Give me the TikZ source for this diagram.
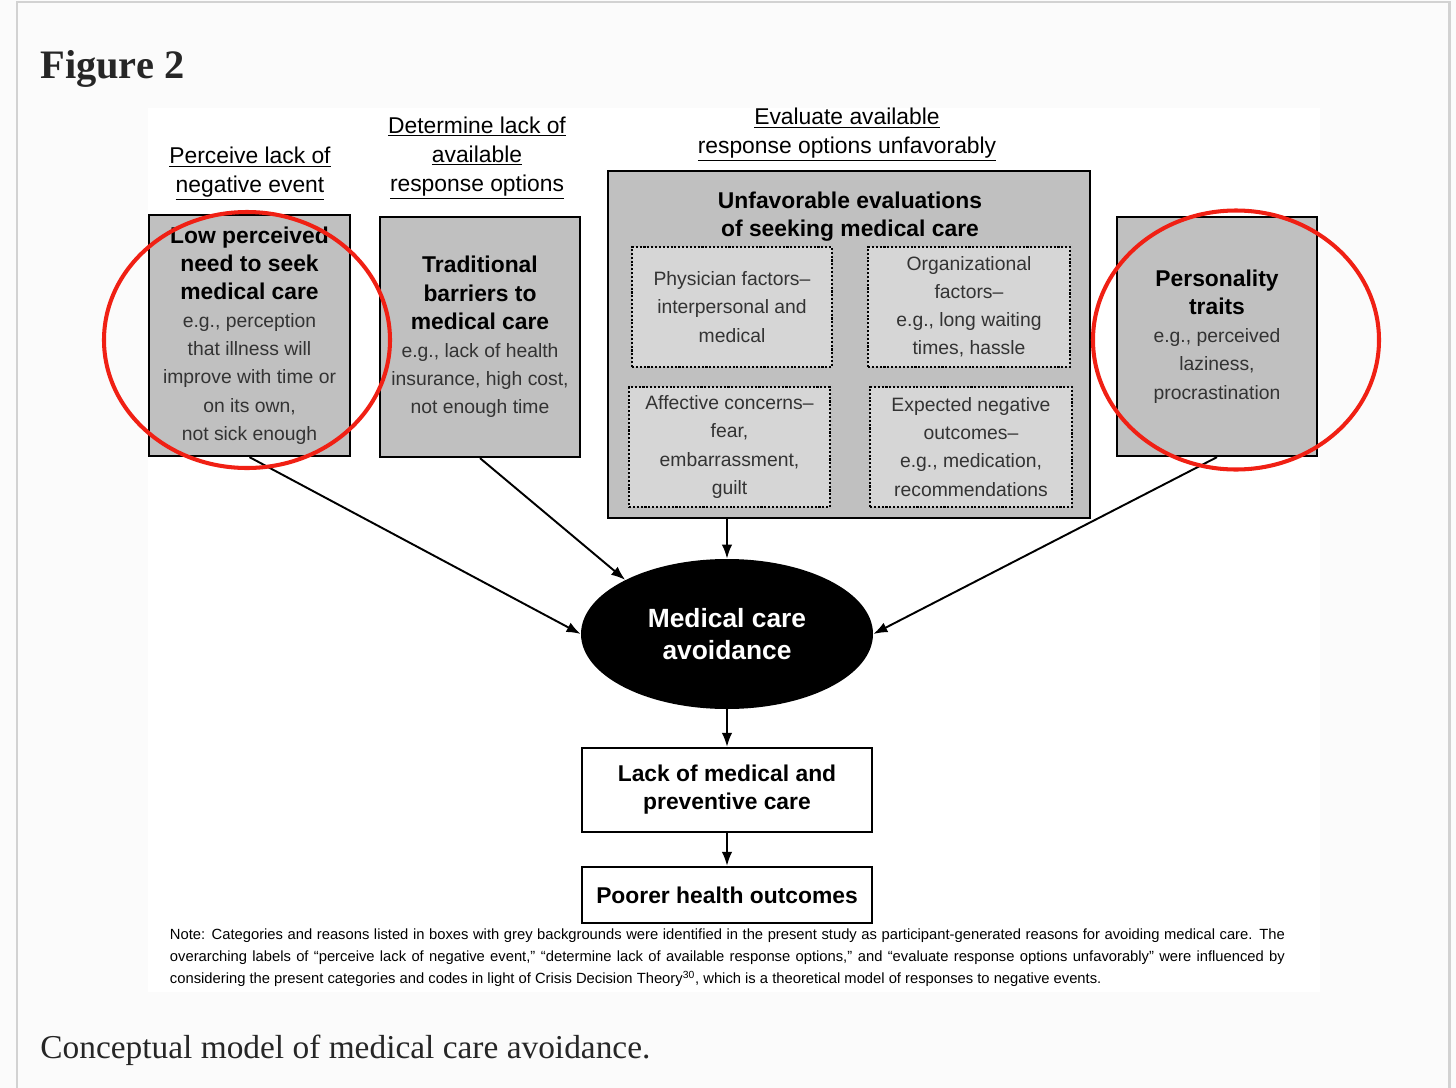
\documentclass[tikz,border=0pt]{standalone}
\usepackage{fontspec}
\setmainfont{Liberation Serif}
\newfontfamily\arialfont{Liberation Sans}
\usetikzlibrary{shapes.geometric,arrows.meta,positioning}
\definecolor{framegray}{RGB}{210,210,210}
\definecolor{pagegray}{RGB}{251,251,251}
\definecolor{boxgray}{RGB}{192,192,192}
\definecolor{innergray}{RGB}{214,214,214}
\definecolor{ringred}{RGB}{240,32,20}
\definecolor{textgray}{RGB}{38,38,38}
\newcommand{\boxhead}[1]{\textbf{\color{black}\fontsize{13}{16}\selectfont #1}}
\tikzset{
  graybox/.style={draw, line width=1.3pt, fill=boxgray, align=center, inner sep=0pt,
    font=\arialfont\fontsize{11}{16}\selectfont, text=black!80},
  dotbox/.style={draw, densely dotted, line width=1.2pt, fill=innergray, minimum height=24mm,
    align=center, inner sep=0pt, font=\arialfont\fontsize{11}{16}\selectfont, text=black!80},
  whitebox/.style={draw, line width=1.3pt, fill=white, minimum width=58mm, align=center,
    inner sep=0pt, font=\arialfont\bfseries\fontsize{13}{16}\selectfont},
  toplabel/.style={align=center, inner sep=0pt, font=\arialfont\fontsize{13}{16.5}\selectfont},
  flow/.style={-{Latex[length=8pt,width=6pt]}, line width=1.1pt},
  ring/.style={draw=ringred, line width=2.3pt, ellipse, inner sep=0pt},
}
\begin{document}
\begin{tikzpicture}[x=0.2mm, y=-0.2mm]
  \useasboundingbox (0,0) rectangle (1456,1088);
  \fill[pagegray] (0,0) rectangle (1456,1088);
  \draw[framegray, line width=1.7pt] (17,1100) -- (17,2) -- (1449,2) -- (1449,1100);
  \fill[white] (148,108) rectangle (1320,992);

  \node[anchor=base west, inner sep=0pt, text=textgray, font=\bfseries\fontsize{23}{27}\selectfont] (figtitle) at (40,78) {Figure 2};

  % headings
  \node[toplabel] (lab1) at (250,174) {\underline{Perceive lack of}\\\underline{negative event}};
  \node[toplabel] (lab2) at (477,158) {\underline{Determine lack of}\\\underline{available}\\\underline{response options}};
  \node[toplabel] (lab3) at (847,135) {\underline{Evaluate available}\\\underline{response options unfavorably}};

  % grey boxes
  \node[graybox, minimum width=40.2mm, minimum height=48.2mm] (need) at (249.5,335.5) {\boxhead{Low perceived}\\\boxhead{need to seek}\\\boxhead{medical care}\\e.g., perception\\that illness will\\improve with time or\\on its own,\\not sick enough};
  \node[graybox, minimum width=40mm, minimum height=48mm] (barrier) at (480,337) {\boxhead{Traditional}\\\boxhead{barriers to}\\\boxhead{medical care}\\e.g., lack of health\\insurance, high cost,\\not enough time};
  \node[graybox, minimum width=96.4mm, minimum height=69.4mm] (evals) at (849,344.5) {};
  \node[graybox, minimum width=40mm, minimum height=47.8mm] (traits) at (1217,336.5) {\boxhead{Personality}\\\boxhead{traits}\\e.g., perceived\\laziness,\\procrastination};

  \node[align=center, inner sep=0pt, font=\arialfont\fontsize{13}{16}\selectfont] (evalhead) at (850,217) {\boxhead{Unfavorable evaluations}\\\boxhead{of seeking medical care}};
  \node[dotbox, minimum width=40mm] (phys) at (732,307) {Physician factors–\\interpersonal and\\medical};
  \node[dotbox, minimum width=40.4mm] (org) at (969,307) {Organizational\\factors–\\e.g., long waiting\\times, hassle};
  \node[dotbox, minimum width=40.2mm] (aff) at (729.5,447) {Affective concerns–\\fear,\\embarrassment,\\guilt};
  \node[dotbox, minimum width=40.4mm] (expct) at (971,447) {Expected negative\\outcomes–\\e.g., medication,\\recommendations};

  % outcome chain
  \node[ellipse, fill=black, minimum width=58.4mm, minimum height=30mm, inner sep=0pt, text=white, align=center, font=\arialfont\bfseries\fontsize{15}{18}\selectfont] (avoid) at (727,634) {Medical care\\avoidance};
  \node[whitebox, minimum height=16.8mm] (lack) at (727,790) {Lack of medical and\\preventive care};
  \node[whitebox, minimum height=11.2mm] (poor) at (727,895) {Poorer health outcomes};

  \draw[flow] (need.south) -- (avoid.west);
  \draw[flow] (barrier.south) -- (avoid.152);
  \draw[flow] (avoid.north |- evals.south) -- (avoid.north);
  \draw[flow] (traits.south) -- (avoid.east);
  \draw[flow] (avoid.south) -- (lack.north);
  \draw[flow] (lack.south) -- (poor.north);

  \node[text width=223mm, align=justify, inner sep=0pt, font=\arialfont\fontsize{8.4}{12.5}\selectfont] (note) at (727.5,958) {Note: Categories and reasons listed in boxes with grey backgrounds were identified in the present study as participant-generated reasons for avoiding medical care. The\linebreak overarching labels of “perceive lack of negative event,” “determine lack of available response options,” and “evaluate response options unfavorably” were influenced by\linebreak considering the present categories and codes in light of Crisis Decision Theory\textsuperscript{30}, which is a theoretical model of responses to negative events.};

  % red marks
  \node[ring, minimum width=57.2mm, minimum height=51.2mm] (ringleft) at (247,340) {};
  \node[ring, minimum width=57.2mm, minimum height=51.8mm] (ringright) at (1236,340) {};

  \node[anchor=base west, inner sep=0pt, text=textgray, font=\fontsize{19}{23}\selectfont] (caption) at (40,1058) {Conceptual model of medical care avoidance.};
\end{tikzpicture}
\end{document}
